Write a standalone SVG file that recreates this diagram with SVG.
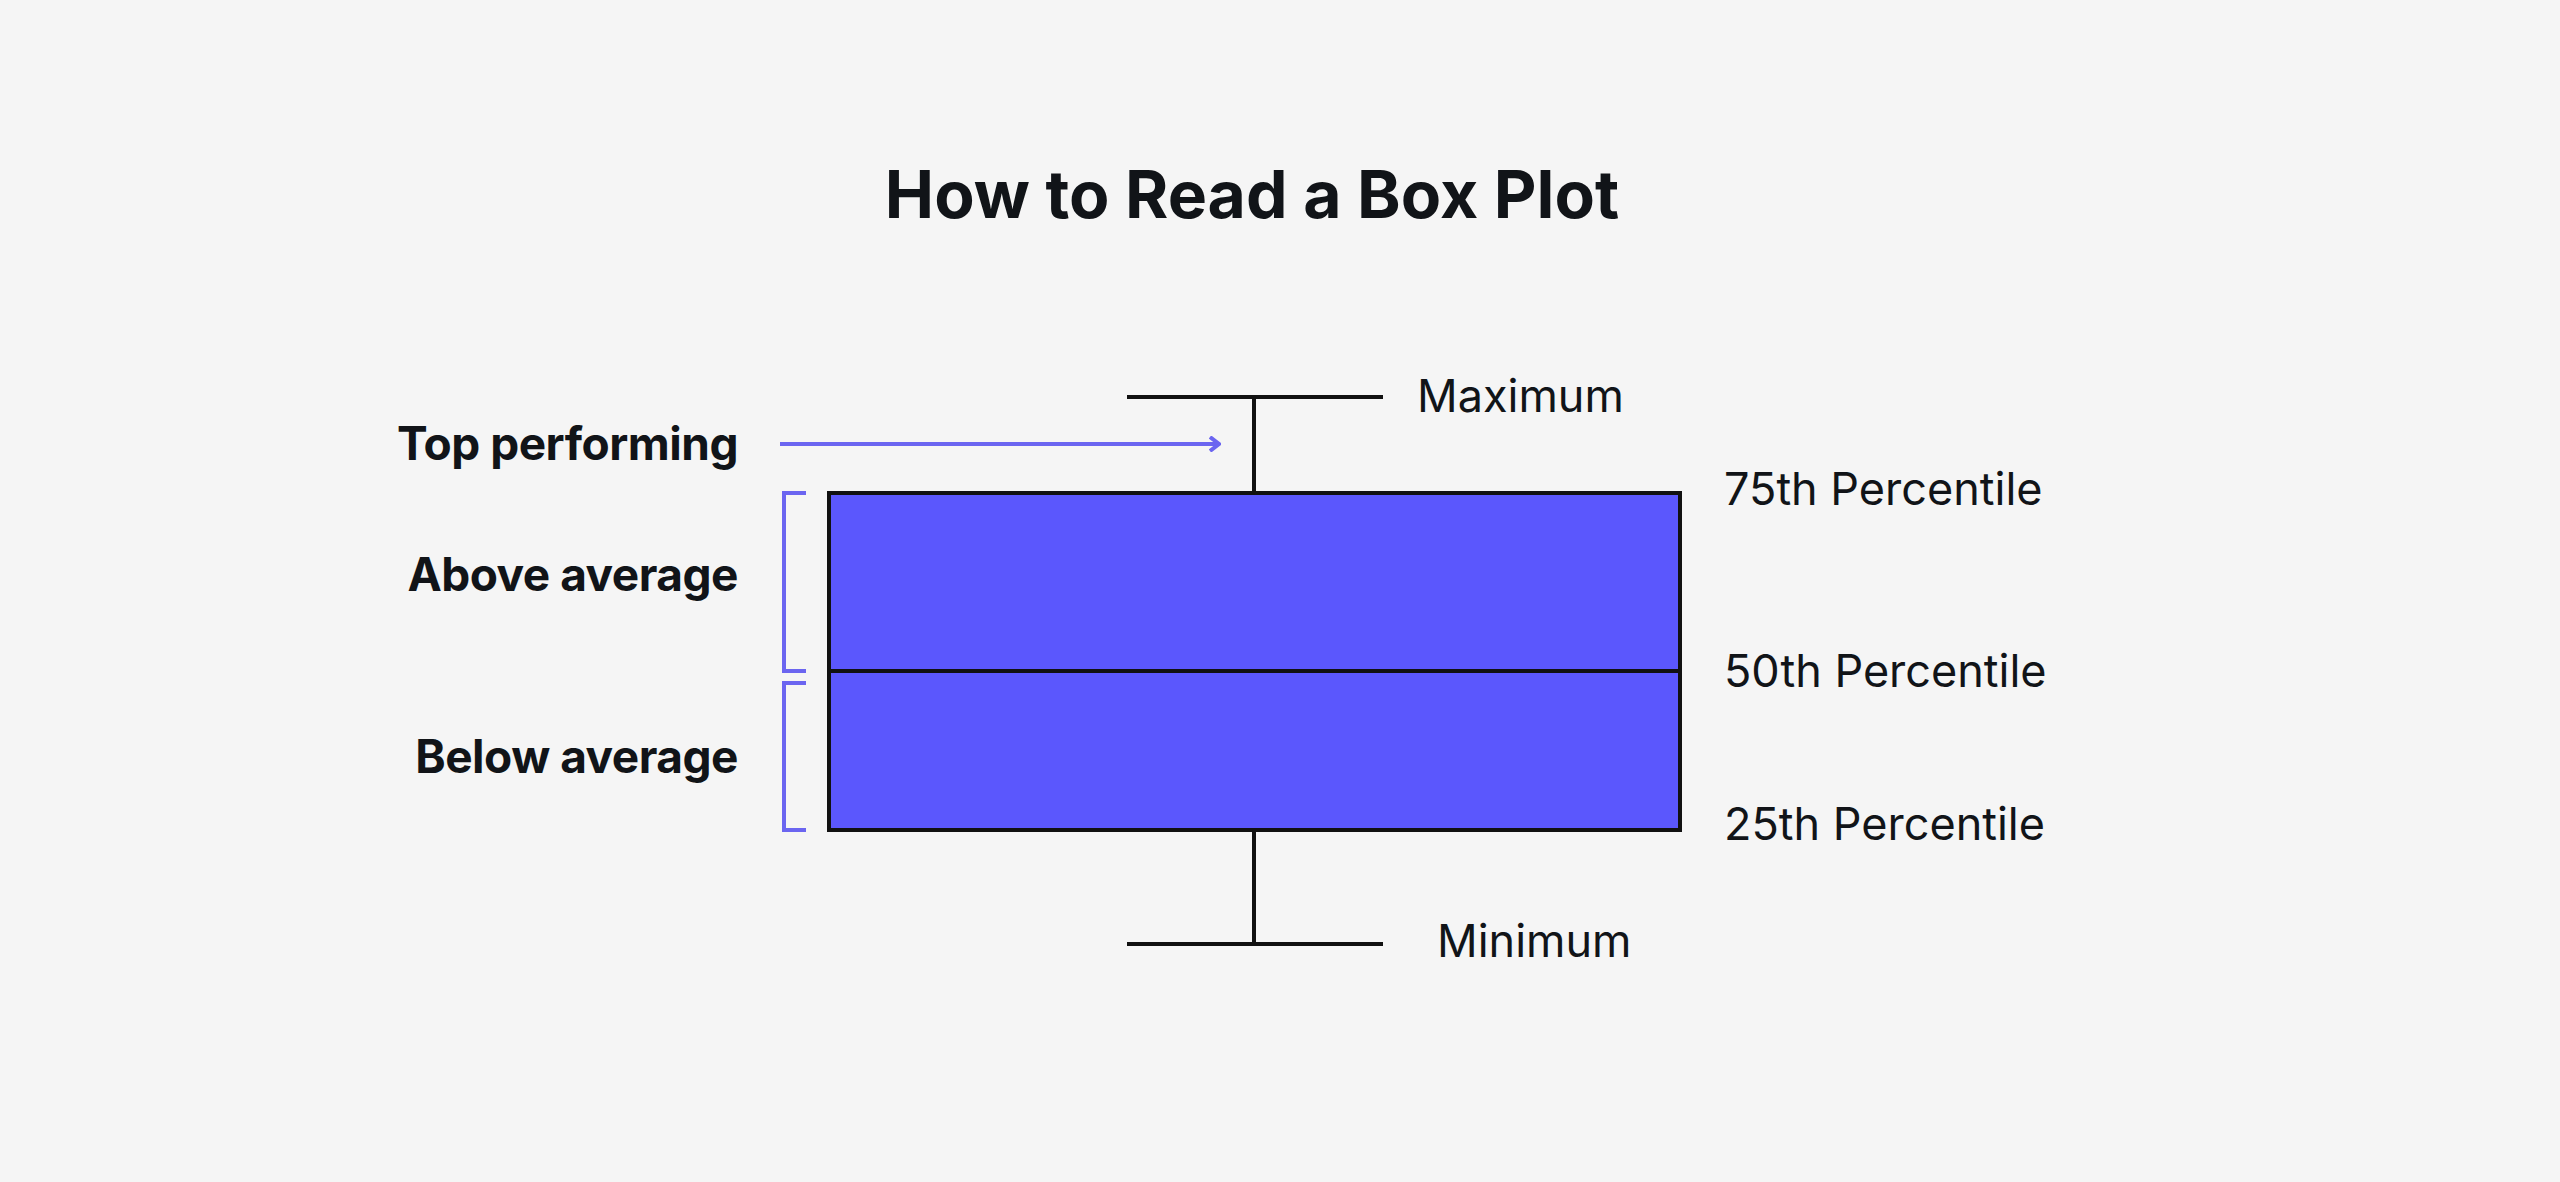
<svg xmlns="http://www.w3.org/2000/svg" width="2560" height="1182" viewBox="0 0 2560 1182">
<style>
.t{font-family:Inter,"Liberation Sans",sans-serif;fill:#111418}
.l{font-size:46px;font-weight:700;text-anchor:end;letter-spacing:-0.5px}
.r{font-size:45px;font-weight:400}
.k{stroke:#111;stroke-width:4;fill:none}
.p{stroke:#6b65f0;stroke-width:4;fill:none}
</style>
<defs><marker id="a" markerWidth="12" markerHeight="16" refX="10" refY="8" orient="auto" markerUnits="userSpaceOnUse"><path d="M1 1L10 8L1 15" fill="none" stroke="#6b65f0" stroke-width="4"/></marker></defs>
<rect width="2560" height="1182" fill="#f5f5f5"/>
<text class="t" x="1252" y="218" font-size="66" font-weight="700" text-anchor="middle">How to Read a Box Plot</text>
<g id="box"><rect x="829" y="493" width="851" height="337" style="fill:#5b57fd;stroke:#111;stroke-width:4"/><line x1="829" y1="671" x2="1680" y2="671" class="k"/></g>
<g id="connectors">
<line x1="1254" y1="397" x2="1254" y2="493" class="k"/><line x1="1127" y1="397" x2="1383" y2="397" class="k"/>
<line x1="1254" y1="830" x2="1254" y2="944" class="k"/><line x1="1127" y1="944" x2="1383" y2="944" class="k"/>
<line x1="780" y1="444" x2="1219" y2="444" class="p" marker-end="url(#a)"/>
<path d="M806 493H784V671H806" class="p"/><path d="M806 683H784V830H806" class="p"/>
</g>
<g id="labels">
<text class="t l" x="738" y="460">Top performing</text>
<text class="t l" x="738" y="591">Above average</text>
<text class="t l" x="738" y="773">Below average</text>
<text class="t r" x="1417" y="412">Maximum</text>
<text class="t r" x="1724" y="505">75th Percentile</text>
<text class="t r" x="1724" y="687">50th Percentile</text>
<text class="t r" x="1724" y="840">25th Percentile</text>
<text class="t r" x="1437" y="957">Minimum</text>
</g>
</svg>
